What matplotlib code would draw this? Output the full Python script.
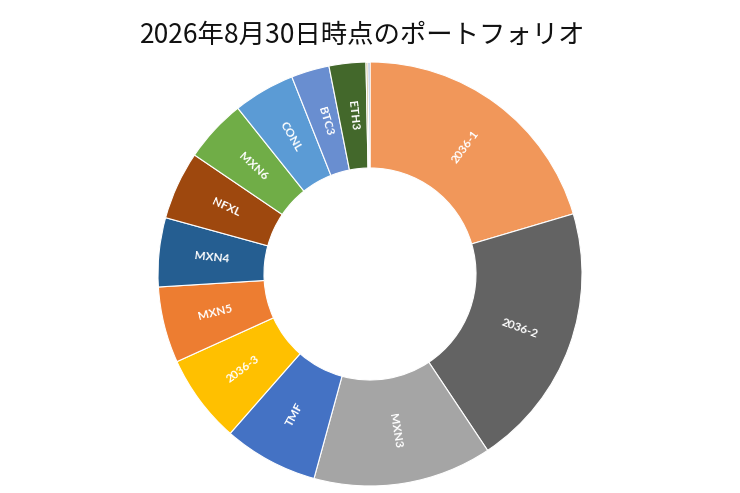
import matplotlib
matplotlib.use("Agg")
import matplotlib.pyplot as plt
import numpy as np

title = "2026年8月30日時点のポートフォリオ"
labels = ["2036-1", "2036-2", "MXN3", "TMF", "2036-3", "MXN5", "MXN4",
          "NFXL", "MXN6", "CONL", "BTC3", "ETH3", "", ""]
values = [20.4, 20.2, 13.6, 7.2, 6.75, 5.8, 5.25, 5.2, 4.8, 4.7, 2.9, 2.8, 0.15, 0.15]
colors = ["#F1975A", "#636363", "#A5A5A5", "#4472C4", "#FFC000", "#ED7D31",
          "#255E91", "#9E480E", "#70AD47", "#5B9BD5", "#698ED0", "#43682B",
          "#B8A060", "#8EA6D0"]

fig = plt.figure(figsize=(7.4, 4.93), dpi=100)
ax = fig.add_axes([0, 0, 1, 1])
R = 2.12
wedges, _ = ax.pie(values, colors=colors, startangle=90, counterclock=False,
                   radius=R, center=(3.70, 2.19),
                   wedgeprops=dict(width=R * 0.5, edgecolor="white", linewidth=0.8))
ax.set_xlim(0, 7.4)
ax.set_ylim(0, 4.93)
ax.set_aspect("equal")
ax.axis("off")

for w, lab in zip(wedges, labels):
    if not lab:
        continue
    ang = (w.theta1 + w.theta2) / 2.0
    r = R * 0.75
    x = 3.70 + r * np.cos(np.radians(ang))
    y = 2.19 + r * np.sin(np.radians(ang))
    a = ((ang + 180) % 360) - 180
    rot = a
    if a > 90:
        rot = a - 180
    elif a < -90:
        rot = a + 180
    ax.text(x, y, lab, rotation=rot, rotation_mode="anchor", ha="center", va="center",
            color="white", fontsize=8.5, fontweight="bold", family=["Lato", "DejaVu Sans"])

fig.text(0.49, 1 - 35 / 493, title, ha="center", va="center", fontsize=19,
         family=["Noto Sans CJK JP", "DejaVu Sans"], color="#111111")

fig.savefig("out.png", dpi=100)
